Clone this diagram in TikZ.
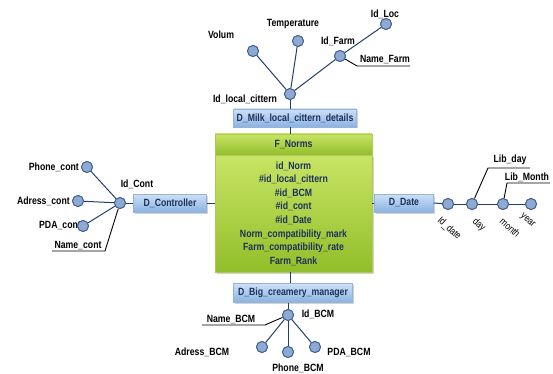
\documentclass[tikz,border=0pt]{standalone}
\usepackage{fontspec}
\setmainfont{Liberation Sans}[FakeStretch=0.83]
\usetikzlibrary{shadows}
\definecolor{navy}{RGB}{36,62,108}
\definecolor{txtnavy}{RGB}{28,50,90}
\definecolor{circfill}{RGB}{143,170,210}
\definecolor{circdraw}{RGB}{62,96,148}
\definecolor{dtop}{RGB}{205,224,247}
\definecolor{dbot}{RGB}{138,178,226}
\definecolor{ddraw}{RGB}{150,180,216}
\definecolor{gtop}{RGB}{200,228,100}
\definecolor{gbot}{RGB}{146,190,42}
\definecolor{gdraw}{RGB}{172,204,90}
\tikzset{
  attr/.style={circle, minimum size=11pt, inner sep=0pt, draw=circdraw, fill=circfill, line width=0.9pt},
  dot/.style={draw=circdraw, fill=circfill, line width=0.9pt},
  dbox/.style={rectangle, draw=ddraw, top color=dtop, bottom color=dbot, text=txtnavy,
     font=\fontsize{10.5}{12}\selectfont\bfseries, inner sep=0pt,
     drop shadow={shadow xshift=1.5pt, shadow yshift=-1.5pt, opacity=0.35}},
  gbox/.style={rectangle, draw=gdraw, top color=gtop, bottom color=gbot, text=txtnavy,
     font=\fontsize{10.5}{13.6}\selectfont\bfseries, inner sep=0pt, line width=0.8pt},
  lbl/.style={font=\fontsize{10.5}{12}\selectfont\bfseries, text=black, inner sep=1pt},
  rlbl/.style={font=\fontsize{10}{11}\selectfont, text=black, inner sep=0.5pt, rotate=-42, anchor=north west},
  link/.style={draw=navy, line width=1pt},
  callout/.style={draw=black, line width=0.9pt},
}
\begin{document}
\begin{tikzpicture}[x=1pt, y=-1pt]
\useasboundingbox (0,0) rectangle (553,374);

% fact table
\node[gbox, minimum width=157pt, minimum height=117pt, drop shadow={shadow xshift=1.5pt, shadow yshift=-1.5pt, opacity=0.35}, align=center] (fnbody) at (293.5,213.5)
  {id\_Norm\\\#id\_local\_cittern\\\#id\_BCM\\\#id\_cont\\\#id\_Date\\Norm\_compatibility\_mark\\Farm\_compatibility\_rate\\Farm\_Rank};
\node[gbox, minimum width=157pt, minimum height=21pt] (fnhead) at (293.5,144.5) {F\_Norms};

% dimension boxes
\node[dbox, minimum width=123pt, minimum height=18pt] (milk) at (295,118) {D\_Milk\_local\_cittern\_details};
\node[dbox, minimum width=73pt, minimum height=18pt] (ctrl) at (170,203) {D\_Controller};
\node[dbox, minimum width=59pt, minimum height=18pt] (date) at (404,203) {D\_Date};
\node[dbox, minimum width=119pt, minimum height=19pt] (big) at (293,293) {D\_Big\_creamery\_manager};

% top attributes
\node[attr] (idloc) at (290,94) {};
\node[attr] (volum) at (253,51) {};
\node[attr] (temp) at (298,41) {};
\node[attr] (idfarm) at (340,56) {};
\node[attr] (idlocx) at (386,24) {};
\node[lbl] (lidloc) at (245,99) {Id\_local\_cittern};
\node[lbl] (lvolum) at (221,35) {Volum};
\node[lbl] (ltemp) at (293,24) {Temperature};
\node[lbl] (lidfarm) at (338,41) {Id\_Farm};
\node[lbl] (lidlocx) at (385,14) {Id\_Loc};
\coordinate (nf1) at (357,66);
\coordinate (nf2) at (410,66);
\node[lbl, anchor=south] (lnamefarm) at (385,65) {Name\_Farm};

% controller attributes
\node[attr] (idcont) at (120,203) {};
\node[attr] (phone) at (87,167) {};
\node[attr] (adress) at (78,201) {};
\node[attr] (pda) at (83,226) {};
\node[lbl] (lidcont) at (137,184) {Id\_Cont};
\node[lbl, anchor=east] (lphone) at (80,167) {Phone\_cont};
\node[lbl, anchor=east] (ladress) at (71,201) {Adress\_cont};
\node[lbl] (lpda) at (60,226) {PDA\_cont};
\coordinate (nc1) at (105,251);
\coordinate (nc2) at (52,251);
\node[lbl, anchor=south] (lnamecont) at (78,251) {Name\_cont};

% date attributes
\node[attr] (iddate) at (448,204) {};
\node[attr] (day) at (472,204) {};
\node[attr] (month) at (503,204) {};
\node[attr] (year) at (531,204) {};
\node[rlbl] (liddate) at (442,215) {Id\_date};
\node[rlbl] (lday) at (477,216) {day};
\node[rlbl] (lmonth) at (504,216) {month};
\node[rlbl] (lyear) at (524,212) {year};
\coordinate (ld1) at (488,168);
\coordinate (ld2) at (530,168);
\node[lbl, anchor=south] (llibday) at (510,166) {Lib\_day};
\coordinate (lm1) at (507,183);
\coordinate (lm2) at (550,183);
\node[lbl, anchor=south] (llibmonth) at (527,183) {Lib\_Month};

% BCM attributes
\node[attr] (idbcm) at (288,315) {};
\node[attr] (adbcm) at (262,347) {};
\node[attr] (phbcm) at (288,352) {};
\node[attr] (pdbcm) at (315,347) {};
\node[lbl] (lidbcm) at (318,314) {Id\_BCM};
\node[lbl] (ladbcm) at (202,352) {Adress\_BCM};
\node[lbl] (lphbcm) at (298,368) {Phone\_BCM};
\node[lbl] (lpdbcm) at (349,352) {PDA\_BCM};
\coordinate (nb1) at (265,325);
\coordinate (nb2) at (202,325);
\node[lbl, anchor=south] (lnamebcm) at (231,325) {Name\_BCM};

% connectors
\path[link] (idloc) -- (idloc |- milk.north);
\path[link] (milk.south -| idloc) -- (idloc |- fnhead.north);
\path[link] (fnbody.south -| idloc) -- (big.north -| idloc);
\path[link] (big.south -| idbcm) -- (idbcm);
\path[link] (idloc) -- (volum);
\path[link] (idloc) -- (temp);
\path[link] (idloc) -- (idfarm);
\path[link] (idfarm) -- (idlocx);
\path[link] (ctrl.east) -- (ctrl.east -| fnbody.west);
\path[link] (ctrl.west) -- (idcont);
\path[link] (idcont) -- (phone);
\path[link] (idcont) -- (adress);
\path[link] (idcont) -- (pda);
\path[link] (date.west) -- (date.west -| fnbody.east);
\path[link] (date.east) -- (iddate);
\path[link] (iddate) -- (day);
\path[link] (day) -- (month);
\path[link] (month) -- (year);
\path[link] (idbcm) -- (adbcm);
\path[link] (idbcm) -- (phbcm);
\path[link] (idbcm) -- (pdbcm);
\path[callout] (idfarm) -- (nf1) -- (nf2);
\path[callout] (idcont) -- (nc1) -- (nc2);
\path[callout] (day) -- (ld1) -- (ld2);
\path[callout] (month) -- (lm1) -- (lm2);
\path[callout] (idbcm) -- (nb1) -- (nb2);
% redraw circles on top
\foreach \n in {idloc,volum,temp,idfarm,idlocx,idcont,phone,adress,pda,iddate,day,month,year,idbcm,adbcm,phbcm,pdbcm}
  \path[dot] (\n.center) circle (5.5pt);
\end{tikzpicture}
\end{document}
